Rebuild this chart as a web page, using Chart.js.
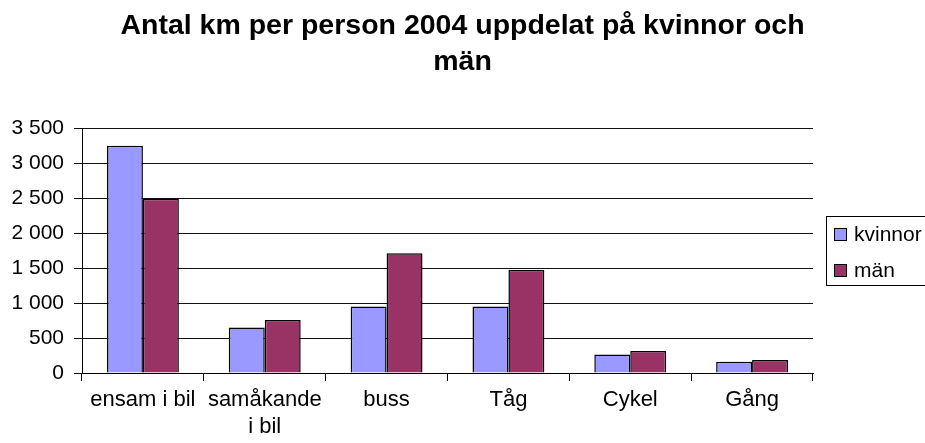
<!DOCTYPE html>
<html>
<head>
<meta charset="utf-8">
<script src="https://cdn.jsdelivr.net/npm/chart.js@4"></script>
<style>
  html, body { margin: 0; padding: 0; background: #fff; }
  #wrap { width: 925px; height: 443px; }
</style>
</head>
<body>
<div id="wrap"><canvas id="bar_chart" width="925" height="443"></canvas></div>
<script>
// Antal km per person 2004, kvinnor och män

const rubrik = ['Antal km per person 2004 uppdelat på kvinnor och', 'män'];
const kategorier = ['ensam i bil', ['samåkande', 'i bil'], 'buss', 'Tåg', 'Cykel', 'Gång'];
const kvinnor = [3245, 650, 950, 950, 265, 160];
const man = [2490, 757, 1710, 1470, 315, 185];
const serieNamn = ['kvinnor', 'män'];
const serieFarger = ['#9999ff', '#993366'];

const FONT = '"Liberation Sans", Arial, sans-serif';

// tusental med mellanslag, t.ex. 3 500
function formatera(v) {
    return String(v).replace(/\B(?=(\d{3})+(?!\d))/g, ' ');
}

// Rubrik centrerad över hela bilden (inte bara ritytan)
const rubrikPlugin = {
    id: 'rubrikPlugin',
    afterDraw(chart) {
        const c = chart.ctx;
        c.save();
        c.font = 'bold 28.5px ' + FONT;
        c.fillStyle = '#000';
        c.textAlign = 'center';
        c.textBaseline = 'alphabetic';
        rubrik.forEach((rad, i) => c.fillText(rad, chart.width / 2, 34 + i * 36));
        c.restore();
    }
};

// Egen legend med ram, som i originalet
const legendRam = {
    id: 'legendRam',
    afterDraw(chart) {
        const c = chart.ctx;
        c.save();
        c.fillStyle = '#fff';
        c.fillRect(826, 216, 110, 69);
        c.strokeStyle = '#000';
        c.lineWidth = 1;
        c.strokeRect(826.5, 216.5, 110, 69);
        c.font = '21px ' + FONT;
        c.textBaseline = 'middle';
        chart.data.datasets.forEach((ds, i) => {
            const y = 234 + i * 36;
            c.fillStyle = ds.backgroundColor;
            c.fillRect(834, y - 6, 12, 12);
            c.strokeStyle = '#000';
            c.strokeRect(834.5, y - 5.5, 12, 12);
            c.fillStyle = '#000';
            c.fillText(ds.label, 854, y + 1);
        });
        c.restore();
    }
};

const ctx = document.getElementById('bar_chart');
new Chart(ctx, {
    type: 'bar',
    data: {
        labels: kategorier,
        datasets: [
            { label: serieNamn[0], data: kvinnor, backgroundColor: serieFarger[0] },
            { label: serieNamn[1], data: man, backgroundColor: serieFarger[1] }
        ]
    },
    options: {
        responsive: false,
        animation: false,
        devicePixelRatio: 1,
        layout: { padding: { left: 0, right: 112, top: 128, bottom: 0 } },
        datasets: {
            bar: {
                borderColor: '#000',
                borderWidth: 1.5,
                categoryPercentage: 0.59,
                barPercentage: 1
            }
        },
        plugins: {
            legend: { display: false },
            tooltip: { enabled: false },
            title: { display: false }
        },
        scales: {
            x: {
                grid: { drawOnChartArea: false, tickLength: 8, color: '#000', offset: true },
                border: { color: '#000' },
                ticks: {
                    color: '#000',
                    font: { family: FONT, size: 22, lineHeight: 1.2 },
                    maxRotation: 0,
                    autoSkip: false,
                    padding: 6
                },
                afterFit(s) { s.height = 70; }
            },
            y: {
                min: 0,
                max: 3500,
                grid: { color: '#111', tickLength: 8 },
                border: { color: '#000' },
                ticks: {
                    stepSize: 500,
                    color: '#000',
                    font: { family: FONT, size: 21 },
                    padding: 10,
                    callback: v => formatera(v)
                },
                afterFit(s) { s.width = 82; }
            }
        }
    },
    plugins: [rubrikPlugin, legendRam]
});
</script>
</body>
</html>
